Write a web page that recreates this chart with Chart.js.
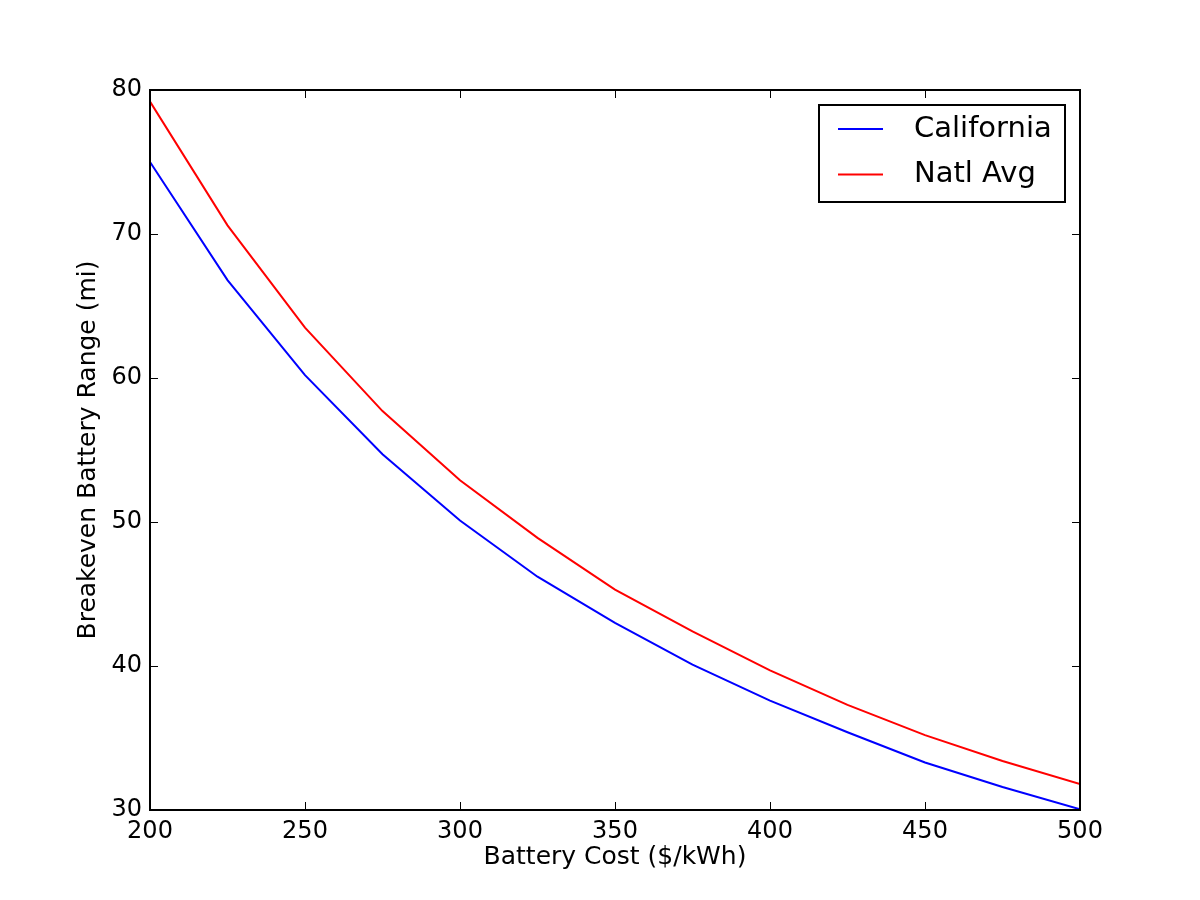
<!DOCTYPE html>
<html>
<head>
<meta charset="utf-8">
<title>Breakeven Battery Range</title>
<script src="https://cdn.jsdelivr.net/npm/chart.js@4.4.1/dist/chart.umd.min.js"></script>
<style>
  html, body { margin: 0; padding: 0; background: #fff; }
  #wrap { width: 1200px; height: 900px; }
</style>
</head>
<body>
<div id="wrap"><canvas id="chart" width="1200" height="900"></canvas></div>
<script>
const batteryCost = [200, 225, 250, 275, 300, 325, 350, 375, 400, 425, 450, 475, 500];
const california  = [75.0, 66.8, 60.2, 54.7, 50.1, 46.2, 43.0, 40.1, 37.6, 35.4, 33.3, 31.6, 30.05];
const natlAvg     = [79.2, 70.6, 63.5, 57.7, 52.9, 48.9, 45.3, 42.4, 39.7, 37.3, 35.2, 33.4, 31.8];

const xTicks = [200, 250, 300, 350, 400, 450, 500];
const yTicks = [30, 40, 50, 60, 70, 80];

const FONT = "'DejaVu Sans', sans-serif";

const toPoints = (ys) => batteryCost.map((x, i) => ({ x: x, y: ys[i] }));

// matplotlib-style frame: box on all four sides, inward ticks, boxed legend
const framePlugin = {
  id: 'frame',
  afterDatasetsDraw(chart) {
    const { ctx, chartArea: a, scales: { x, y } } = chart;
    const len = 8;
    ctx.save();
    ctx.strokeStyle = '#000';
    ctx.lineWidth = 1;
    ctx.beginPath();
    xTicks.forEach((v) => {
      const px = Math.round(x.getPixelForValue(v)) + 0.5;
      ctx.moveTo(px, a.bottom); ctx.lineTo(px, a.bottom - len);
      ctx.moveTo(px, a.top); ctx.lineTo(px, a.top + len);
    });
    yTicks.forEach((v) => {
      const py = Math.round(y.getPixelForValue(v)) + 0.5;
      ctx.moveTo(a.left, py); ctx.lineTo(a.left + len, py);
      ctx.moveTo(a.right, py); ctx.lineTo(a.right - len, py);
    });
    ctx.stroke();

    ctx.lineWidth = 2;
    ctx.strokeRect(a.left, a.top, a.right - a.left, a.bottom - a.top);

    // legend
    const bx = a.right - 261, by = a.top + 15, bw = 246, bh = 97;
    ctx.fillStyle = '#fff';
    ctx.fillRect(bx, by, bw, bh);
    ctx.lineWidth = 2;
    ctx.strokeRect(bx, by, bw, bh);
    ctx.font = '29px ' + FONT;
    ctx.textBaseline = 'middle';
    ctx.textAlign = 'left';
    chart.data.datasets.forEach((ds, i) => {
      const ly = by + 24 + i * 45.5;
      ctx.strokeStyle = ds.borderColor;
      ctx.lineWidth = 2;
      ctx.beginPath();
      ctx.moveTo(bx + 19, ly);
      ctx.lineTo(bx + 64, ly);
      ctx.stroke();
      ctx.fillStyle = '#000';
      ctx.fillText(ds.label, bx + 95, ly);
    });
    ctx.restore();
  }
};

new Chart(document.getElementById('chart'), {
  type: 'line',
  data: {
    datasets: [
      { label: 'California', data: toPoints(california), borderColor: '#0000ff' },
      { label: 'Natl Avg', data: toPoints(natlAvg), borderColor: '#ff0000' },
    ],
  },
  options: {
    responsive: false,
    animation: false,
    layout: { padding: { top: 90, right: 120, left: 0, bottom: 0 } },
    elements: {
      line: { borderWidth: 2, tension: 0, fill: false },
      point: { radius: 0 },
    },
    plugins: {
      legend: { display: false },
      tooltip: { enabled: false },
    },
    scales: {
      x: {
        type: 'linear',
        min: 200,
        max: 500,
        afterBuildTicks: (axis) => { axis.ticks = xTicks.map((v) => ({ value: v })); },
        afterFit: (axis) => { axis.height = 90; },
        grid: { drawOnChartArea: false, drawTicks: false },
        border: { display: false },
        ticks: { color: '#000', font: { family: FONT, size: 24 }, padding: 7, maxRotation: 0 },
        title: {
          display: true,
          text: 'Battery Cost ($/kWh)',
          color: '#000',
          font: { family: FONT, size: 25 },
          padding: { top: 0, bottom: 28 },
        },
      },
      y: {
        type: 'linear',
        min: 30,
        max: 80,
        afterBuildTicks: (axis) => { axis.ticks = yTicks.map((v) => ({ value: v })); },
        afterFit: (axis) => { axis.width = 150; },
        grid: { drawOnChartArea: false, drawTicks: false },
        border: { display: false },
        ticks: { color: '#000', font: { family: FONT, size: 24 }, padding: 8 },
        title: {
          display: true,
          text: 'Breakeven Battery Range (mi)',
          color: '#000',
          font: { family: FONT, size: 25 },
          padding: { top: 73, bottom: 0 },
        },
      },
    },
  },
  plugins: [framePlugin],
});
</script>
</body>
</html>
